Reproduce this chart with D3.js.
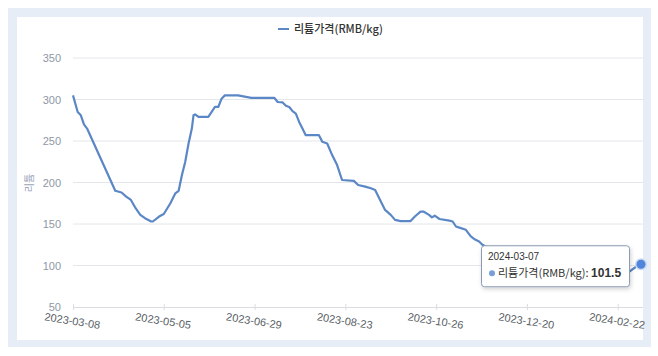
<!DOCTYPE html>
<html>
<head>
<meta charset="utf-8">
<script src="https://cdn.jsdelivr.net/npm/d3@7"></script>
<style>
  html, body { margin: 0; padding: 0; background: #ffffff; }
  svg { display: block; }
  text { font-family: "Noto Sans CJK KR", "Liberation Sans", Arial, sans-serif; }
</style>
</head>
<body>
<svg id="chart" width="658" height="356"></svg>
<script>
// ---------------- data ----------------
const seriesName = "리튬가격(RMB/kg)";
const yAxisTitle = "리튬";
const xTickLabels = ["2023-03-08", "2023-05-05", "2023-06-29", "2023-08-23", "2023-10-26", "2023-12-20", "2024-02-22"];
const lastDate = "2024-03-07";
const yTicks = [50, 100, 150, 200, 250, 300, 350];

const dates = [
  "2023-03-08","2023-03-11","2023-03-13","2023-03-15","2023-03-17","2023-04-04","2023-04-08","2023-04-11",
  "2023-04-14","2023-04-17","2023-04-20","2023-04-23","2023-04-27","2023-04-28","2023-05-02","2023-05-05",
  "2023-05-09","2023-05-12","2023-05-14","2023-05-16","2023-05-18","2023-05-20","2023-05-22","2023-05-23",
  "2023-05-24","2023-05-26","2023-06-01","2023-06-03","2023-06-05","2023-06-07","2023-06-09","2023-06-11",
  "2023-06-19","2023-06-23","2023-06-27","2023-07-11","2023-07-13","2023-07-16","2023-07-18","2023-07-20",
  "2023-07-22","2023-07-24","2023-07-26","2023-07-28","2023-07-30","2023-08-07","2023-08-09","2023-08-12",
  "2023-08-15","2023-08-18","2023-08-21","2023-08-29","2023-09-01","2023-09-06","2023-09-10","2023-09-13",
  "2023-09-17","2023-09-20","2023-09-24","2023-09-27","2023-10-01","2023-10-08","2023-10-11","2023-10-15",
  "2023-10-17","2023-10-21","2023-10-23","2023-10-25","2023-10-28","2023-11-03","2023-11-05","2023-11-07",
  "2023-11-10","2023-11-13","2023-11-16","2023-11-18","2023-11-21","2023-11-23","2023-11-30","2023-12-08",
  "2023-12-20","2024-01-05","2024-01-20","2024-02-05","2024-02-22","2024-02-29","2024-03-04","2024-03-07"
];
const prices = [
  305, 285, 281, 270, 265, 190, 188, 183,
  179, 169, 161, 157, 153, 153, 159, 162,
  175, 187, 190, 209, 225, 247, 265, 281,
  282, 279, 279, 285, 291, 291, 301, 305,
  305, 303.5, 302, 302, 297, 296.5, 292.5, 291,
  286, 283, 273, 265, 257, 257, 249, 247,
  233, 221, 203, 202, 197, 195, 193, 191,
  177, 167, 161, 155, 153.5, 153.5, 159, 165,
  165, 161, 158, 160, 156, 154, 153, 147,
  145, 143, 135, 132, 129, 125, 118, 110,
  103, 97, 94, 92, 90, 92.5, 98.5, 101.5
];

// ---------------- layout ----------------
const W = 658, H = 356;
const plot = { left: 73, right: 641, top: 58, bottom: 307 };
const endOffset = 10 / 39; // last category after the final labelled one (in label intervals)
const lineColor = "#5b87c6";

const svg = d3.select("#chart");
const parse = d3.timeParse("%Y-%m-%d");

// frame
svg.append("rect").attr("x", 8).attr("y", 8).attr("width", 643).attr("height", 339).attr("fill", "#e6edf6");
svg.append("rect").attr("x", 17).attr("y", 17).attr("width", 626).attr("height", 323).attr("fill", "#ffffff");

// scales: category-like axis, labels evenly spaced
const anchorDates = xTickLabels.concat([lastDate]).map(parse);
const nInt = xTickLabels.length - 1 + endOffset;
const step = (plot.right - plot.left) / nInt;
const anchorPos = anchorDates.map((d, i) => i < xTickLabels.length ? plot.left + i * step : plot.right);
const x = d3.scaleTime().domain(anchorDates).range(anchorPos);
const y = d3.scaleLinear().domain([50, 350]).range([plot.bottom, plot.top]);

// grid
svg.append("g").selectAll("line").data(yTicks.filter(v => v !== 50)).join("line")
  .attr("x1", plot.left).attr("x2", plot.right + 2)
  .attr("y1", d => y(d)).attr("y2", d => y(d))
  .attr("stroke", "#e3e6ea").attr("stroke-width", 1);

// y axis labels
const yAxis = d3.axisLeft(y).tickValues(yTicks).tickSize(0).tickPadding(12);
const gy = svg.append("g").attr("transform", `translate(${plot.left},0)`).call(yAxis);
gy.select(".domain").remove();
gy.selectAll("text").attr("fill", "#8e97a6").attr("font-size", 11)
  .style("font-family", "'Liberation Sans', Arial, sans-serif");

// x axis
const xAxis = d3.axisBottom(x).tickValues(xTickLabels.map(parse)).tickSize(5)
  .tickFormat(d3.timeFormat("%Y-%m-%d"));
const gx = svg.append("g").attr("transform", `translate(0,${plot.bottom})`).call(xAxis);
gx.select(".domain").attr("stroke", "#d9dde3").attr("d", `M${plot.left},0.5H${plot.right + 2}`);
gx.selectAll(".tick line").attr("stroke", "#d9dde3").attr("y1", -3).attr("y2", 3);
gx.selectAll("text").attr("fill", "#5a5f66").attr("font-size", 11)
  .style("font-family", "'Liberation Sans', Arial, sans-serif")
  .attr("text-anchor", "middle")
  .attr("transform", "translate(0,7) rotate(9)")
  .attr("dy", "0.71em").attr("y", 3);

// y axis title
svg.append("text").attr("transform", `translate(33,183) rotate(-90)`)
  .attr("text-anchor", "middle").attr("font-size", 10).attr("fill", "#9aa6ba").text(yAxisTitle);

// legend
const lg = svg.append("g").attr("transform", "translate(278,29)");
lg.append("line").attr("x1", 0).attr("x2", 11).attr("y1", 0).attr("y2", 0)
  .attr("stroke", lineColor).attr("stroke-width", 2);
lg.append("text").attr("x", 16).attr("y", 4).attr("font-size", 11).attr("fill", "#333")
  .attr("font-weight", 500).text(seriesName);

// line
const data = dates.map((d, i) => ({ date: parse(d), value: prices[i] }));
svg.append("path").datum(data)
  .attr("fill", "none").attr("stroke", lineColor).attr("stroke-width", 2.2)
  .attr("stroke-linejoin", "round")
  .attr("d", d3.line().x(d => x(d.date)).y(d => y(d.value)));

// highlighted last point
const last = data[data.length - 1];
const px = x(last.date), py = y(last.value);
svg.append("circle").attr("cx", px).attr("cy", py).attr("r", 6).attr("fill", "#c9d9f3");
svg.append("circle").attr("cx", px).attr("cy", py).attr("r", 4.5).attr("fill", "#4f86dc");

// tooltip
const tipW = 148, tipH = 41;
const tx = px - 160, ty = py - 19;
const defs = svg.append("defs");
const f = defs.append("filter").attr("id", "sh").attr("x", "-10%").attr("y", "-20%").attr("width", "130%").attr("height", "150%");
f.append("feDropShadow").attr("dx", 1).attr("dy", 2).attr("stdDeviation", 2).attr("flood-color", "#000").attr("flood-opacity", 0.18);
svg.append("rect").attr("x", tx + 0.5).attr("y", ty + 0.5).attr("width", tipW).attr("height", tipH).attr("rx", 3)
  .attr("fill", "#ffffff").attr("stroke", "#8d9bb2").attr("stroke-width", 1).attr("filter", "url(#sh)");
svg.append("text").attr("x", tx + 7).attr("y", ty + 15).attr("font-size", 10).attr("fill", "#333")
  .style("font-family", "'Liberation Sans', Arial, sans-serif").text(lastDate);
svg.append("circle").attr("cx", tx + 11).attr("cy", ty + 28).attr("r", 3).attr("fill", "#7a9fd8");
const t2 = svg.append("text").attr("x", tx + 17).attr("y", ty + 32).attr("font-size", 11).attr("fill", "#333");
t2.append("tspan").text(seriesName + ": ");
t2.append("tspan").attr("font-weight", "bold").attr("font-size", 12)
  .style("font-family", "'Liberation Sans', Arial, sans-serif").text(last.value);
</script>
</body>
</html>
